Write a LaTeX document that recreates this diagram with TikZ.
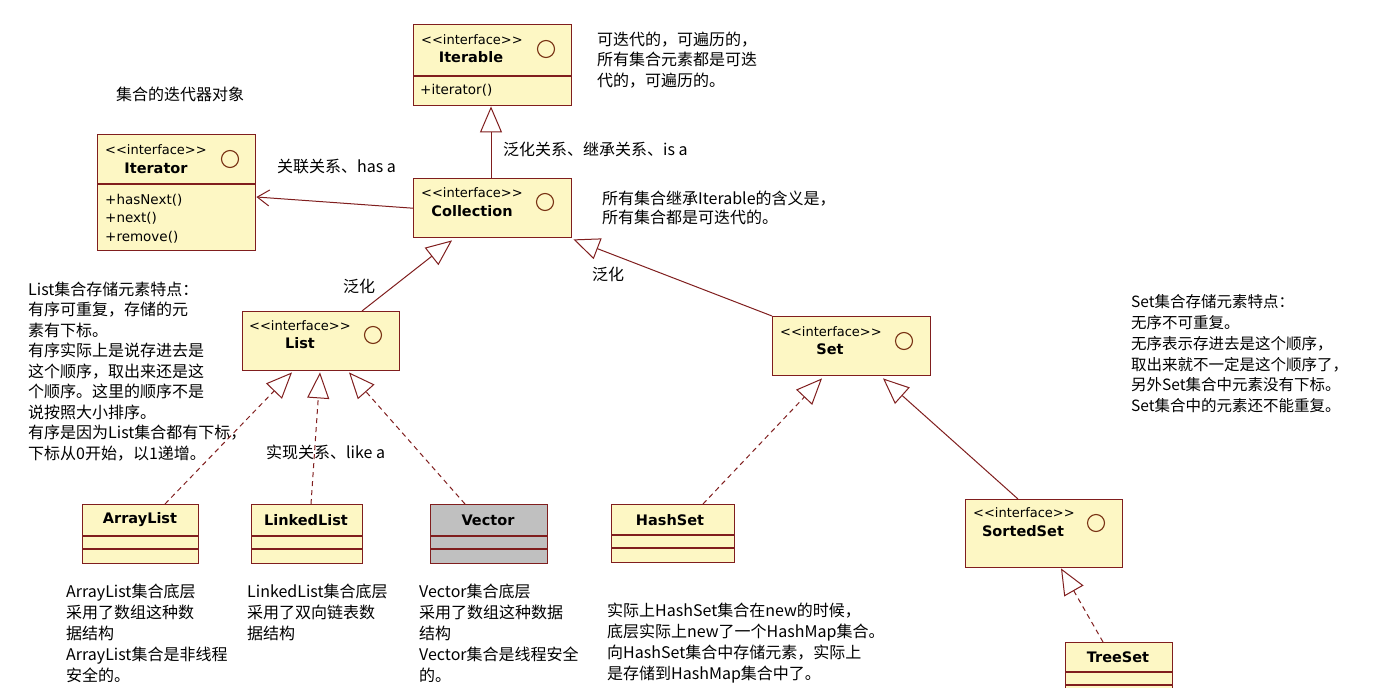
\documentclass[tikz,border=0pt]{standalone}
\usepackage{fontspec}
\setmainfont{Noto Sans CJK SC}
\newfontfamily\umlfont{DejaVu Sans}
\usetikzlibrary{arrows.meta,calc}
\definecolor{boxline}{RGB}{128,30,30}
\definecolor{boxfill}{RGB}{253,247,196}
\definecolor{circline}{RGB}{120,50,20}
\definecolor{greyfill}{RGB}{192,192,192}
\begin{document}
\begin{tikzpicture}[x=1pt,y=-1pt,
  umlbox/.style={draw=boxline, fill=boxfill, line width=1.4pt, rectangle, inner sep=0pt, anchor=north west},
  stereo/.style={font=\umlfont\fontsize{13}{15}\selectfont, anchor=west, inner sep=0pt},
  cname/.style={font=\umlfont\bfseries\fontsize{14.5}{16}\selectfont, inner sep=0pt},
  meth/.style={font=\umlfont\fontsize{13.5}{15}\selectfont, anchor=west, inner sep=0pt},
  ifc/.style={draw=circline, circle, line width=1.1pt, minimum size=17pt, inner sep=0pt},
  note/.style={font=\fontsize{16}{20.5}\selectfont, align=left, anchor=north west, inner sep=0pt},
  gen/.style={draw=boxline, line width=1pt, -{Triangle[open, length=26pt, width=22pt]}},
  real/.style={gen, dash pattern=on 5pt off 4pt},
  assoc/.style={draw=boxline, line width=1pt, -{Straight Barb[length=12pt, width=16pt]}},
  divider/.style={draw=boxline, line width=1.4pt}
]
\fill[white] (0,0) rectangle (1374,688);
\clip (0,0) rectangle (1374,688);

% Iterable
\node[umlbox, minimum width=158pt, minimum height=81pt] (iterable) at (413,24) {};
\draw[divider] ($(iterable.north west)+(0,52)$) -- ($(iterable.north east)+(0,52)$);
\node[stereo] (iterable-s) at (421,40) {<<interface>>};
\node[cname] (iterable-n) at (471,57) {Iterable};
\node[ifc] (iterable-c) at (546,49) {};
\node[meth] (iterable-m) at (420,90) {+iterator()};

% Iterator
\node[umlbox, minimum width=158pt, minimum height=116pt] (iterator) at (97,134) {};
\draw[divider] ($(iterator.north west)+(0,50)$) -- ($(iterator.north east)+(0,50)$);
\node[stereo] (iterator-s) at (105,150) {<<interface>>};
\node[cname] (iterator-n) at (156,168) {Iterator};
\node[ifc] (iterator-c) at (230,159) {};
\node[meth] (iterator-m1) at (105,200) {+hasNext()};
\node[meth] (iterator-m2) at (105,218) {+next()};
\node[meth] (iterator-m3) at (105,237) {+remove()};

% Collection
\node[umlbox, minimum width=158pt, minimum height=59pt] (collection) at (413,178) {};
\node[stereo] (collection-s) at (421,193) {<<interface>>};
\node[cname] (collection-n) at (472,211) {Collection};
\node[ifc] (collection-c) at (545,202) {};

% List
\node[umlbox, minimum width=157pt, minimum height=59pt] (list) at (242,311) {};
\node[stereo] (list-s) at (249,326) {<<interface>>};
\node[cname] (list-n) at (300,343) {List};
\node[ifc] (list-c) at (373,335) {};

% Set
\node[umlbox, minimum width=158pt, minimum height=59pt] (set) at (772,316) {};
\node[stereo] (set-s) at (780,332) {<<interface>>};
\node[cname] (set-n) at (830,349) {Set};
\node[ifc] (set-c) at (904,341) {};

% SortedSet
\node[umlbox, minimum width=157pt, minimum height=68pt] (sortedset) at (965,499) {};
\node[stereo] (sortedset-s) at (973,513) {<<interface>>};
\node[cname] (sortedset-n) at (1023,531) {SortedSet};
\node[ifc] (sortedset-c) at (1096,523) {};

% classes
\node[umlbox, minimum width=116pt, minimum height=59pt] (arraylist) at (82,504) {};
\draw[divider] ($(arraylist.north west)+(0,32)$) -- ($(arraylist.north east)+(0,32)$);
\draw[divider] ($(arraylist.north west)+(0,45)$) -- ($(arraylist.north east)+(0,45)$);
\node[cname] (arraylist-n) at (140,520) {ArrayList};

\node[umlbox, minimum width=111pt, minimum height=59pt] (linkedlist) at (251,504) {};
\draw[divider] ($(linkedlist.north west)+(0,32)$) -- ($(linkedlist.north east)+(0,32)$);
\draw[divider] ($(linkedlist.north west)+(0,45)$) -- ($(linkedlist.north east)+(0,45)$);
\node[cname] (linkedlist-n) at (306,520) {LinkedList};

\node[umlbox, fill=greyfill, minimum width=117pt, minimum height=59pt] (vector) at (430,504) {};
\draw[divider] ($(vector.north west)+(0,32)$) -- ($(vector.north east)+(0,32)$);
\draw[divider] ($(vector.north west)+(0,45)$) -- ($(vector.north east)+(0,45)$);
\node[cname] (vector-n) at (488,520) {Vector};

\node[umlbox, minimum width=123pt, minimum height=58pt] (hashset) at (611,504) {};
\draw[divider] ($(hashset.north west)+(0,31)$) -- ($(hashset.north east)+(0,31)$);
\draw[divider] ($(hashset.north west)+(0,44)$) -- ($(hashset.north east)+(0,44)$);
\node[cname] (hashset-n) at (670,520) {HashSet};

\node[umlbox, minimum width=107pt, minimum height=60pt] (treeset) at (1065,642) {};
\draw[divider] ($(treeset.north west)+(0,30)$) -- ($(treeset.north east)+(0,30)$);
\draw[divider] ($(treeset.north west)+(0,43)$) -- ($(treeset.north east)+(0,43)$);
\node[cname] (treeset-n) at (1118,657) {TreeSet};

% connectors
\draw[gen] ($(collection.north west)+(78,0)$) -- ($(iterable.south west)+(78,0)$);
\draw[assoc] (collection.west) -- ($(iterator.north east)+(0,63)$);
\draw[gen] ($(list.north west)+(120,0)$) -- ($(collection.south west)+(39,2)$);
\draw[gen] (set.north west) -- ($(collection.south east)+(1,1)$);
\draw[real] ($(arraylist.north west)+(83,0)$) -- ($(list.south west)+(50,1)$);
\draw[real] ($(linkedlist.north west)+(60,0)$) -- ($(list.south west)+(78,1)$);
\draw[real] ($(vector.north west)+(35,0)$) -- ($(list.south west)+(107,1)$);
\draw[real] ($(hashset.north west)+(92,0)$) -- ($(set.south west)+(50,2)$);
\draw[gen] ($(sortedset.north west)+(53,0)$) -- ($(set.south west)+(111,2)$);
\draw[real] ($(treeset.north west)+(38,0)$) -- ($(sortedset.south west)+(96,0)$);

% notes
\node[note] (n-iterable) at (597,31.5) {可迭代的，可遍历的，\\所有集合元素都是可迭\\代的，可遍历的。};
\node[note] (n-iterobj) at (116,86.5) {集合的迭代器对象};
\node[note, font=\fontsize{16}{19.5}\selectfont] (n-collection) at (602,190.5) {所有集合继承Iterable的含义是，\\所有集合都是可迭代的。};
\node[note] (n-hasa) at (277,158.5) {关联关系、has a};
\node[note] (n-isa) at (503,141.5) {泛化关系、继承关系、is a};
\node[note] (n-gen1) at (343,278.5) {泛化};
\node[note] (n-gen2) at (592,266.5) {泛化};
\node[note] (n-list) at (28,281.5) {List集合存储元素特点：\\有序可重复，存储的元\\素有下标。\\有序实际上是说存进去是\\这个顺序，取出来还是这\\个顺序。这里的顺序不是\\说按照大小排序。\\有序是因为List集合都有下标，\\下标从0开始，以1递增。};
\node[note] (n-likea) at (266,444.5) {实现关系、like a};
\node[note, font=\fontsize{15.5}{20.8}\selectfont] (n-set) at (1131,294.5) {Set集合存储元素特点：\\无序不可重复。\\无序表示存进去是这个顺序，\\取出来就不一定是这个顺序了，\\另外Set集合中元素没有下标。\\Set集合中的元素还不能重复。};
\node[note, font=\fontsize{16}{21}\selectfont] (n-arraylist) at (66,583.5) {ArrayList集合底层\\采用了数组这种数\\据结构\\ArrayList集合是非线程\\安全的。};
\node[note, font=\fontsize{16}{21}\selectfont] (n-linkedlist) at (247,583.5) {LinkedList集合底层\\采用了双向链表数\\据结构};
\node[note, font=\fontsize{16}{21}\selectfont] (n-vector) at (419,583.5) {Vector集合底层\\采用了数组这种数据\\结构\\Vector集合是线程安全\\的。};
\node[note, font=\fontsize{16}{21}\selectfont] (n-hashset) at (607,602.5) {实际上HashSet集合在new的时候，\\底层实际上new了一个HashMap集合。\\向HashSet集合中存储元素，实际上\\是存储到HashMap集合中了。};
\end{tikzpicture}
\end{document}
